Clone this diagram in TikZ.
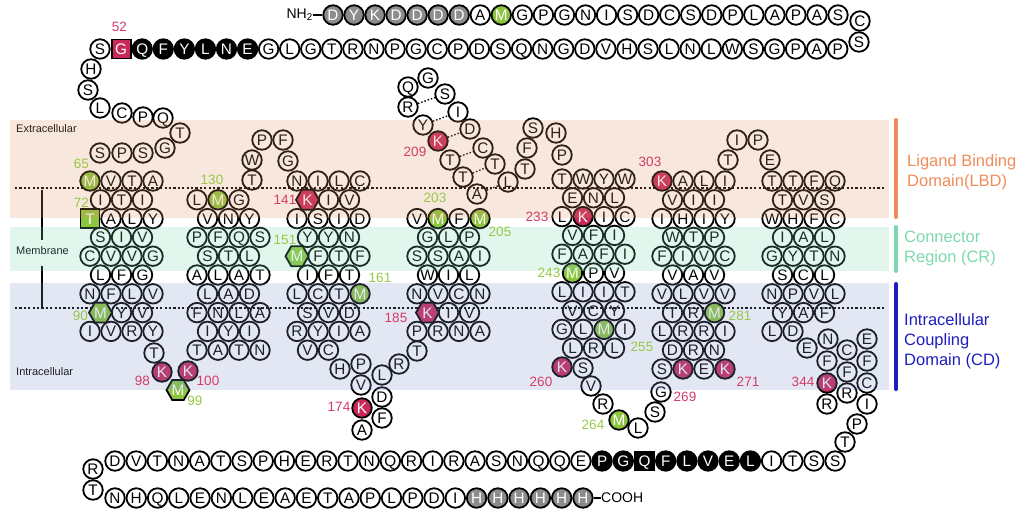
\documentclass[tikz,border=0pt]{standalone}
\usepackage{fontspec}
\setmainfont{Liberation Sans}
\usetikzlibrary{shapes.geometric}
\definecolor{resgreen}{RGB}{140,198,63}
\definecolor{resred}{RGB}{200,40,90}
\definecolor{resgrey}{RGB}{140,140,140}
\definecolor{labred}{RGB}{214,58,104}
\definecolor{labgreen}{RGB}{150,200,70}
\definecolor{bandpeach}{RGB}{219,146,101}
\definecolor{bandgreen}{RGB}{123,214,177}
\definecolor{bandblue}{RGB}{128,146,200}
\definecolor{lbdcol}{RGB}{240,140,90}
\definecolor{crcol}{RGB}{125,216,174}
\definecolor{cdcol}{RGB}{30,30,190}
\tikzset{
  resbase/.style={line width=1.8pt, inner sep=0pt, text height=11pt, text depth=0pt,
    font=\fontsize{15.3}{15.3}\selectfont},
  resW/.style={resbase, circle, draw=black, minimum size=19.5pt},
  resG/.style={resW, fill=resgreen, text=white},
  resR/.style={resW, fill=resred, text=white},
  resK/.style={resW, fill=black, text=white},
  resGr/.style={resW, fill=resgrey, text=white},
  hexbase/.style={resbase, regular polygon, regular polygon sides=6, draw=black, minimum size=23pt, text=white},
  hexG/.style={hexbase, fill=resgreen},
  hexR/.style={hexbase, fill=resred},
  sqbase/.style={resbase, rectangle, draw=black, minimum size=19pt, text=white},
  sqG/.style={sqbase, fill=resgreen},
  sqR/.style={sqbase, fill=resred},
  sqK/.style={sqbase, fill=black},
  labR/.style={inner sep=0pt, text=labred, font=\fontsize{13.5}{13.5}\selectfont},
  labGn/.style={inner sep=0pt, text=labgreen, font=\fontsize{13.5}{13.5}\selectfont},
  sidetxt/.style={inner sep=0pt, font=\fontsize{11}{11}\selectfont},
  memline/.style={line width=2.2pt, dash pattern=on 2.2pt off 2.2pt},
  ladder/.style={line width=1.4pt, dash pattern=on 1.4pt off 2pt},
  thinline/.style={line width=1.2pt},
  bandlab/.style={inner sep=0pt, anchor=west, align=left, font=\fontsize{16.5}{20}\selectfont},
  bar/.style={line width=4pt, line cap=round}
}
\newcommand\chain[6][resW]{%
  \foreach \l [count=\i] in {#6}{%
    \if\l*\else
      \node[#1] (#2-\i) at ({#3+(\i-1)*#5},{#4}) {\l};
    \fi}}
\newcommand\hrow[5][181]{\chain{#2}{#3}{#1+18.8*#4}{21}{#5}}
\newcommand\rs[5][resW]{\node[#1] (#2) at ({#3},{#4}) {#5};}
\newcommand\yk[1]{181+18.8*#1}
\begin{document}
\begin{tikzpicture}[x=1pt,y=-1pt]
\useasboundingbox (0,0) rectangle (1021,512);
% membrane lines
\coordinate (m1a) at (15,188); \coordinate (m1b) at (886,188);
\coordinate (m2a) at (15,308); \coordinate (m2b) at (886,308);
\draw[memline] (m1a) -- (m1b);
\draw[memline] (m2a) -- (m2b);
% side texts and bracket
\node[sidetxt, anchor=west] (txtext) at (16,129) {Extracellular};
\node[sidetxt] (txtmem) at (42.5,251) {Membrane};
\node[sidetxt, anchor=west] (txtint) at (16,372) {Intracellular};
\coordinate (br1) at (42,190); \coordinate (br2) at (42,240);
\coordinate (br3) at (42,266); \coordinate (br4) at (42,308);
\draw[thinline] (br1) -- (br2);
\draw[thinline] (br3) -- (br4);
% ---------- top chain ----------
\node[inner sep=0pt, anchor=east, font=\fontsize{14}{14}\selectfont] (nh2) at (313,15) {NH\textsubscript{2}};
\chain[resGr]{t1a}{333}{15}{21.04}{D,Y,K,D,D,D,D}
\rs{t1A}{480.3}{15}{A}
\rs[resG]{t1M}{501.3}{15}{M}
\chain{t1b}{522.4}{15}{21.04}{G,P,G,N,I,S,D,C,S,D,P,L,A,P,A,S}
\rs{t1C}{860}{21}{C}
\rs{t1S}{859}{42}{S}
\draw[thinline] (nh2.east) -- (t1a-1);
\chain{t2c}{268.6}{49}{21.08}{G,L,G,T,R,N,P,G,C,P,D,S,Q,N,G,D,V,H,S,L,N,L,W,S,G,P,A,P}
\chain[resK]{t2b}{142.2}{49}{21.08}{Q,F,Y,L,N,E}
\rs[sqR]{t2G}{121.1}{49}{G}
\rs{t2S}{100}{49}{S}
% N-term descending loop
\rs{lA}{91}{69}{H}
\rs{lB}{88}{90}{S}
\rs{lC}{100}{108}{L}
\rs{lD}{122}{113}{C}
\rs{lE}{143}{117}{P}
\rs{lF}{163}{118}{Q}
\rs{lG}{180}{133}{T}
\rs{lH}{165}{148}{G}
\rs{lI}{143}{153}{S}
\rs{lJ}{122}{153}{P}
\rs{lK}{100}{153}{S}
% ---------- helix 1 ----------
\hrow{a0}{90}{0}{*,V,T,A}
\hrow{a1}{100.5}{1}{I,T,I}
\hrow{a2}{90}{2}{*,A,L,Y}
\hrow{a3}{100.5}{3}{S,I,V}
\hrow{a4}{90}{4}{C,V,V,G}
\hrow{a5}{100.5}{5}{L,F,G}
\hrow{a6}{90}{6}{N,F,L,V}
\hrow{a7}{100.5}{7}{*,Y,V}
\hrow{a8}{90}{8}{I,V,R,Y}
\rs[resG]{a0-1}{90}{\yk{0}}{M}
\rs[sqG]{a2-1}{90}{\yk{2}}{T}
\rs[hexG]{a7-1}{100.5}{\yk{7}}{M}
% ICL1
\rs{iT}{154}{353}{T}
\rs[resR]{iK1}{162}{372}{K}
\rs[hexG]{iM}{178}{390}{M}
\rs[resR]{iK2}{188}{371}{K}
% ---------- helix 2 ----------
\hrow{b1}{197}{1}{L,*,G}
\hrow{b2}{207.5}{2}{V,N,Y}
\hrow{b3}{197}{3}{P,F,Q,S}
\hrow{b4}{207.5}{4}{S,T,L}
\hrow{b5}{197}{5}{A,L,A,T}
\hrow{b6}{207.5}{6}{L,A,D}
\hrow{b7}{197}{7}{F,N,L,A}
\hrow{b8}{207.5}{8}{I,Y,I}
\hrow{b9}{197}{9}{T,A,T,N}
\rs[resG]{b1-2}{218}{\yk{1}}{M}
% ECL1
\rs{eT}{252}{180}{T}
\rs{eW}{252}{160}{W}
\rs{eP}{262}{140}{P}
\rs{eF}{283}{140}{F}
\rs{eG}{288}{161}{G}
% ---------- helix 3 ----------
\hrow{c0}{297}{0}{N,I,L,C}
\hrow{c1}{307.5}{1}{*,I,V}
\hrow{c2}{297}{2}{I,S,I,D}
\hrow{c3}{307.5}{3}{Y,Y,N}
\hrow{c4}{297}{4}{*,F,T,F}
\hrow{c5}{307.5}{5}{I,F,T}
\hrow{c6}{297}{6}{L,C,T,*}
\hrow{c7}{307.5}{7}{S,V,D}
\hrow{c8}{297}{8}{R,Y,I,A}
\hrow{c9}{307.5}{9}{V,C}
\rs[hexR]{c1-1}{307.5}{\yk{1}}{K}
\rs[hexG]{c4-1}{297}{\yk{4}}{M}
\rs[resG]{c6-4}{360}{\yk{6}}{M}
% ICL2
\rs{i2H}{340}{369}{H}
\rs{i2P}{361}{364}{P}
\rs{i2V}{361}{385}{V}
\rs[resR]{i2K}{362}{408}{K}
\rs{i2A}{362}{430}{A}
\rs{i2F}{382}{418}{F}
\rs{i2D}{382}{397}{D}
\rs{i2L}{382}{375}{L}
\rs{i2R}{399}{364}{R}
\rs{i2T}{417}{351}{T}
% ---------- helix 4 ----------
\hrow{d2}{417}{2}{V,*,F,*}
\hrow{d3}{427.5}{3}{G,L,P}
\hrow{d4}{417}{4}{S,S,A,I}
\hrow{d5}{427.5}{5}{W,I,L}
\hrow{d6}{417}{6}{N,V,C,N}
\hrow{d7}{427.5}{7}{*,I,V}
\hrow{d8}{417}{8}{P,R,N,A}
\rs[resG]{d2-2}{438}{\yk{2}}{M}
\rs[resG]{d2-4}{480}{\yk{2}}{M}
\rs[hexR]{d7-1}{427.5}{\yk{7}}{K}
% ECL2
\rs{x2A}{477}{194}{A}
\rs{x2T1}{463}{177}{T}
\rs{x2T2}{450}{160}{T}
\rs[resR]{x2K}{438}{141}{K}
\rs{x2Y}{423}{125}{Y}
\rs{x2R}{408}{107}{R}
\rs{x2Q}{408}{87}{Q}
\rs{x2G}{428}{78}{G}
\rs{x2S}{445}{94}{S}
\rs{x2I}{458}{112}{I}
\rs{x2D}{470}{129}{D}
\rs{x2C}{483}{148}{C}
\rs{x2T3}{495}{164}{T}
\rs{x2L}{508}{182}{L}
\rs{x2T4}{525}{169}{T}
\rs{x2F}{527}{148}{F}
\rs{x2S2}{533}{128}{S}
\rs{x2H}{556}{133}{H}
\rs{x2P}{562}{155}{P}
\draw[ladder] (x2R) -- (x2S);
\draw[ladder] (x2Y) -- (x2I);
\draw[ladder] (x2K) -- (x2D);
\draw[ladder] (x2T2) -- (x2C);
\draw[ladder] (x2T1) -- (x2T3);
\draw[ladder] (x2A) -- (x2L);
% ---------- helix 5 ----------
\hrow[179]{e0}{562}{0}{T,W,Y,W}
\hrow[179]{e1}{572.5}{1}{E,N,L}
\hrow[179]{e2}{562}{2}{L,*,I,C}
\hrow[179]{e3}{572.5}{3}{V,F,I}
\hrow[179]{e4}{562}{4}{F,A,F,I}
\hrow[179]{e5}{572.5}{5}{*,P,V}
\hrow[179]{e6}{562}{6}{L,I,I,T}
\hrow[179]{e7}{572.5}{7}{V,C,Y}
\hrow[179]{e8}{562}{8}{G,L,*,I}
\hrow[179]{e9}{572.5}{9}{L,R,L}
\rs[resR]{e2-2}{583}{216.6}{K}
\rs[resG]{e5-1}{572.5}{273}{M}
\rs[resG]{e8-3}{604}{329.4}{M}
% ICL3
\rs[resR]{i3K}{562}{367}{K}
\rs{i3S}{583}{368}{S}
\rs{i3V}{591}{386}{V}
\rs{i3R}{603}{404}{R}
\rs[resG]{i3M}{619}{420}{M}
\rs{i3L}{638}{428}{L}
\rs{i3S2}{655}{412}{S}
\rs{i3G}{661}{392}{G}
% ---------- helix 6 ----------
\hrow{f0}{662}{0}{*,A,L,I}
\hrow{f1}{672.5}{1}{V,I,I}
\hrow{f2}{662}{2}{I,H,I,Y}
\hrow{f3}{672.5}{3}{W,T,P}
\hrow{f4}{662}{4}{F,I,V,C}
\hrow{f5}{672.5}{5}{V,A,V}
\hrow{f6}{662}{6}{V,L,V,V}
\hrow{f7}{672.5}{7}{T,R,*}
\hrow{f8}{662}{8}{L,R,R,I}
\hrow{f9}{672.5}{9}{D,R,N}
\hrow{f10}{662}{10}{S,*,E,*}
\rs[resR]{f0-1}{662}{\yk{0}}{K}
\rs[resG]{f7-3}{714.5}{\yk{7}}{M}
\rs[resR]{f10-2}{683}{\yk{10}}{K}
\rs[resR]{f10-4}{725}{\yk{10}}{K}
% ECL3
\rs{x3T}{728}{160}{T}
\rs{x3I}{737}{140}{I}
\rs{x3P}{758}{140}{P}
\rs{x3E}{770}{160}{E}
% ---------- helix 7 ----------
\hrow{g0}{772}{0}{T,T,F,Q}
\hrow{g1}{782.5}{1}{T,V,S}
\hrow{g2}{772}{2}{W,H,F,C}
\hrow{g3}{782.5}{3}{I,A,L}
\hrow{g4}{772}{4}{G,Y,T,N}
\hrow{g5}{782.5}{5}{S,C,L}
\hrow{g6}{772}{6}{N,P,V,L}
\hrow{g7}{782.5}{7}{Y,A,F}
\hrow{g8}{772}{8}{L,D}
% helix 8
\rs{h8E}{807}{348}{E}
\rs{h8N}{828}{339}{N}
\rs{h8F}{827}{361}{F}
\rs[resR]{h8K}{827}{383}{K}
\rs{h8R}{827}{404}{R}
\rs{h8R2}{847}{393}{R}
\rs{h8F2}{847}{372}{F}
\rs{h8C}{847}{350}{C}
\rs{h8E2}{867}{339}{E}
\rs{h8F3}{867}{361}{F}
\rs{h8C2}{867}{383}{C}
\rs{h8I}{867}{404}{I}
\rs{h8P}{857}{424}{P}
\rs{h8T}{845}{442}{T}
% ---------- C-terminal chain ----------
\chain{u1a}{115}{461}{21.18}{D,V,T,N,A,T,S,P,H,E,R,T,N,Q,R,I,R,A,S,N,Q,Q,E}
\chain[resK]{u1b}{602.1}{461}{21.18}{P,G}
\rs[sqK]{u1Q}{644.5}{461}{Q}
\chain[resK]{u1c}{665.7}{461}{21.18}{F,L,V,E,L}
\chain{u1d}{771.6}{461}{21.18}{I,T,S,S}
\rs{uR}{93}{469}{R}
\rs{uT}{93}{490}{T}
\chain{u2a}{115}{498}{21.27}{N,H,Q,L,E,N,L,E,A,E,T,A,P,L,P,D,I}
\chain[resGr]{u2b}{476.6}{498}{21.27}{H,H,H,H,H,H}
\node[inner sep=0pt, anchor=west, font=\fontsize{14}{14}\selectfont] (cooh) at (601,498) {COOH};
\draw[thinline] (u2b-6) -- (cooh);
% ---------- band overlays ----------
\fill[bandpeach, fill opacity=0.22] (10,120) rectangle (889,218);
\fill[bandgreen, fill opacity=0.22] (10,227) rectangle (889,271);
\fill[bandblue, fill opacity=0.22] (10,283) rectangle (889,390);
% ---------- number labels ----------
\node[labR] (n52) at (119.5,27) {52};
\node[labGn] (n65) at (81.5,164) {65};
\node[labGn] (n72) at (81.5,203) {72};
\node[labGn] (n90) at (80.5,316) {90};
\node[labR] (n98) at (142.5,381) {98};
\node[labGn] (n99) at (195,401) {99};
\node[labR] (n100) at (208,381) {100};
\node[labGn] (n130) at (212,180) {130};
\node[labR] (n141) at (285,200) {141};
\node[labGn] (n151) at (285,240) {151};
\node[labGn] (n161) at (380,278) {161};
\node[labR] (n174) at (339,407) {174};
\node[labR] (n185) at (396,318) {185};
\node[labGn] (n203) at (435,198) {203};
\node[labGn] (n205) at (500,232) {205};
\node[labR] (n209) at (415,152) {209};
\node[labR] (n233) at (537,217) {233};
\node[labGn] (n243) at (549,273) {243};
\node[labGn] (n255) at (642,347) {255};
\node[labR] (n260) at (541,382) {260};
\node[labGn] (n264) at (593,425) {264};
\node[labR] (n269) at (685,397) {269};
\node[labR] (n271) at (748,382) {271};
\node[labGn] (n281) at (740,316) {281};
\node[labR] (n303) at (650,162) {303};
\node[labR] (n344) at (803,382) {344};
% ---------- domain bars and labels ----------
\coordinate (b1a) at (896,120); \coordinate (b1b) at (896,217);
\coordinate (b2a) at (896,227); \coordinate (b2b) at (896,271);
\coordinate (b3a) at (896,284); \coordinate (b3b) at (896,389);
\draw[bar, lbdcol] (b1a) -- (b1b);
\draw[bar, crcol] (b2a) -- (b2b);
\draw[bar, cdcol] (b3a) -- (b3b);
\node[bandlab, text=lbdcol] (lbd) at (907,172) {Ligand Binding\\Domain(LBD)};
\node[bandlab, text=crcol] (cr) at (904,248) {Connector\\Region (CR)};
\node[bandlab, text=cdcol] (cd) at (904,341) {Intracellular\\Coupling\\Domain (CD)};
\end{tikzpicture}
\end{document}
